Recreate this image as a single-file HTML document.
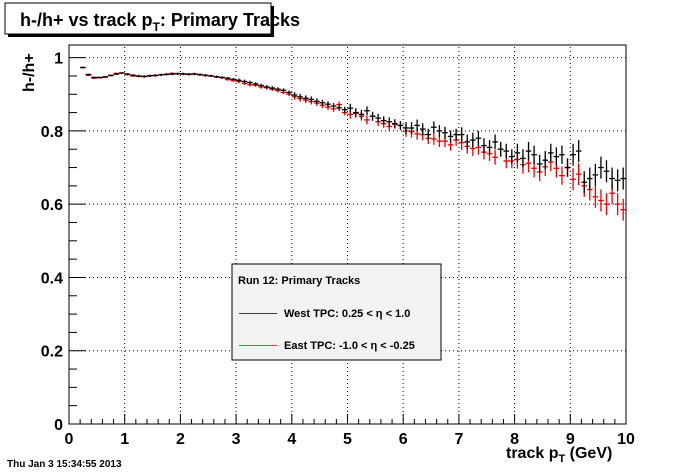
<!DOCTYPE html>
<html><head><meta charset="utf-8"><style>
html,body{margin:0;padding:0;background:#fff;}
svg{display:block;font-family:"Liberation Sans",Arial,sans-serif;font-weight:bold;}
</style></head><body>
<svg id="c" width="696" height="472" viewBox="0 0 696 472">
<rect x="0" y="0" width="696" height="472" fill="#fff"/>
<g>
<rect x="8" y="6" width="266" height="31" fill="#000"/>
<rect x="5" y="3" width="266" height="31" fill="#fff" stroke="#000" stroke-width="1"/>
<text x="20" y="26" font-size="18">h-/h+ vs track p<tspan font-size="12" dy="5">T</tspan><tspan dy="-5">: Primary Tracks</tspan></text>
</g>
<g id="grid"></g>
<g id="axes"></g>
<g id="series"></g>
<text x="0" y="0" font-size="16" transform="translate(34,92) rotate(-90)">h-/h+</text>
<text x="506" y="458" font-size="16">track p<tspan font-size="11" dy="4">T</tspan><tspan dy="-4"> (GeV)</tspan></text>
<text x="7" y="467" font-size="10">Thu Jan  3 15:34:55 2013</text>
<g>
<rect x="232" y="264" width="209" height="96" fill="#f2f2f2" stroke="#000" stroke-width="1"/>
<text x="238" y="284" font-size="11">Run 12: Primary Tracks</text>
<line x1="239" y1="313.5" x2="277" y2="313.5" stroke="#000" stroke-width="0.8"/>
<text x="284" y="317" font-size="11">West TPC: 0.25 &lt; η &lt; 1.0</text>
<line x1="239" y1="345.5" x2="277" y2="345.5" stroke="#e00" stroke-width="0.8"/>
<text x="284" y="349" font-size="11">East TPC: -1.0 &lt; η &lt; -0.25</text>
</g>
</svg>
<script>
const westValues=[.973,.954,.946,.946,.947,.951,.955,.958,.955,.952,
.950,.949,.950,.951,.953,.954,.955,.956,.956,.955,
.955,.954,.952,.950,.948,.946,.944,.941,.938,.935,
.932,.928,.924,.920,.917,.914,.911,.905,.898,.893,
.889,.886,.881,.877,.873,.868,.863,.858,.862,.850,
.845,.855,.840,.835,.828,.825,.820,.815,.808,.808,
.815,.805,.790,.810,.800,.795,.785,.790,.790,.770,
.775,.780,.760,.755,.770,.750,.745,.730,.740,.725,
.745,.735,.710,.720,.740,.730,.735,.700,.735,.745,
.660,.670,.680,.700,.690,.670,.665,.670];
const eastValues=[.973,.952,.944,.945,.948,.952,.957,.958,.954,.950,
.949,.948,.951,.952,.953,.955,.957,.956,.955,.954,
.956,.953,.951,.950,.947,.945,.940,.937,.935,.930,
.926,.925,.920,.918,.914,.910,.905,.900,.893,.888,
.884,.880,.876,.870,.865,.860,.872,.850,.845,.848,
.840,.830,.840,.825,.820,.812,.818,.815,.800,.798,
.792,.790,.780,.778,.772,.772,.762,.775,.768,.758,
.752,.755,.742,.738,.728,.750,.718,.718,.722,.708,
.712,.698,.688,.702,.715,.698,.678,.700,.668,.682,
.650,.640,.620,.610,.600,.630,.600,.585];
const errorByGeV=[.002,.003,.003,.005,.008,.012,.016,.020,.025,.030];
const xTickLabels=["0","1","2","3","4","5","6","7","8","9","10"];
const yTickLabels=["0","0.2","0.4","0.6","0.8","1"];
const binStart=0.2, binWidth=0.1;
const X0=69,X1=626,Y0=424,Y1=45,xMin=0,xMax=10,yMin=0,yMax=1.0345;
const sx=v=>X0+(v-xMin)/(xMax-xMin)*(X1-X0);
const sy=v=>Y0-(v-yMin)/(yMax-yMin)*(Y0-Y1);
const NS="http://www.w3.org/2000/svg";
function mk(tag,attrs,parent){const e=document.createElementNS(NS,tag);for(const k in attrs)e.setAttribute(k,attrs[k]);parent.appendChild(e);return e;}
const grid=document.getElementById('grid'),axes=document.getElementById('axes'),series=document.getElementById('series');
xTickLabels.forEach((l,i)=>{const v=+l;if(v>xMin&&v<xMax){const g=mk('line',{x1:sx(v),x2:sx(v),y1:Y0,y2:Y1,stroke:'#000','stroke-dasharray':'1,3','stroke-width':1},grid);

}});
yTickLabels.forEach(l=>{const v=+l;if(v>yMin){const g=mk('line',{x1:X0,x2:X1,y1:sy(v),y2:sy(v),stroke:'#000','stroke-dasharray':'1,3','stroke-width':1},grid);

}});
const fr=mk('rect',{x:X0,y:Y1,width:X1-X0,height:Y0-Y1,fill:'none',stroke:'#000','stroke-width':1},axes);


for(let k=0;k<=50;k++){const v=k*0.2;const len=k%5===0?10:5;mk('line',{x1:sx(v),x2:sx(v),y1:Y0,y2:Y0-len,stroke:'#000'},axes);}
xTickLabels.forEach(l=>{const t=mk('text',{x:sx(+l),y:Y0+20,'font-size':16,'text-anchor':'middle'},axes);t.textContent=l;

});
for(let k=0;k<=20;k++){const v=k*0.05;const len=k%4===0?17:8;mk('line',{x1:X0,x2:X0+len,y1:sy(v),y2:sy(v),stroke:'#000'},axes);}
yTickLabels.forEach(l=>{const t=mk('text',{x:X0-6,y:sy(+l)+6,'font-size':16,'text-anchor':'end'},axes);t.textContent=l;

});
function draw(vals,color,name){const g=mk('g',{stroke:color,'stroke-width':1.3},series);


vals.forEach((v,i)=>{const lo=binStart+i*binWidth,hi=lo+binWidth,c=lo+binWidth/2;
const e=errorByGeV[Math.min(9,Math.floor(c))];
const p=mk('g',{},g);


mk('line',{x1:sx(lo),x2:sx(hi),y1:sy(v),y2:sy(v)},p);
mk('line',{x1:sx(c),x2:sx(c),y1:sy(v-e),y2:sy(v+e)},p);});}
draw(eastValues,'#e00','east-tpc-series');
draw(westValues,'#000','west-tpc-series');
</script>
</body></html>
